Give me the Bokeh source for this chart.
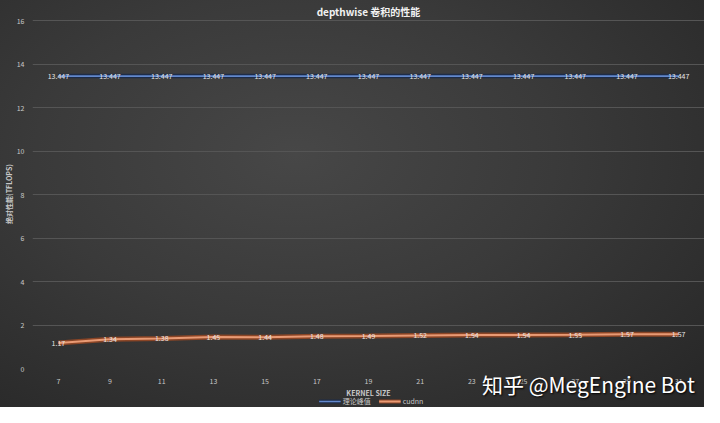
from bokeh.plotting import figure
from bokeh.models import Range1d, SingleIntervalTicker, Legend, LegendItem, Div, ColumnDataSource
from bokeh.layouts import column
from bokeh.core.properties import value
from bokeh.embed import file_html
from bokeh.resources import INLINE

kernel_sizes = ["7", "9", "11", "13", "15", "17", "19", "21", "23", "25", "27", "29", "31"]
peak_values = [13.447] * 13
cudnn_values = [1.17, 1.34, 1.38, 1.45, 1.44, 1.48, 1.49, 1.52, 1.54, 1.54, 1.55, 1.57, 1.57]
peak_name = "理论峰值"
cudnn_name = "cudnn"
watermark = "知乎 @MegEngine Bot"

FONT = "Noto Sans CJK SC"
BLUE_DARK, BLUE = "#1e2c48", "#6288cc"
ORANGE_DARK, ORANGE = "#8a4526", "#e99a74"

p = figure(width=704, height=407, x_range=kernel_sizes, y_range=Range1d(0, 16.05),
           output_backend="svg", toolbar_location=None,
           background_fill_color=None, border_fill_color=None,
           min_border_left=0, min_border_right=0, min_border_top=0, min_border_bottom=39,
           outline_line_color=None)
p.styles = {"background": "radial-gradient(ellipse at 42% 38%, #474747 0%, #3a3a3a 45%, #262626 100%)"}

p.title.text = "depthwise 卷积的性能"
p.title.align = "center"
p.title.text_color = "#f2f2f2"
p.title.text_font = FONT
p.title.text_font_size = "10px"
p.title.text_font_style = "bold"
p.title.offset = 0
p.title.standoff = 2

src_peak = ColumnDataSource(dict(x=kernel_sizes, y=peak_values, t=[f"{v:g}" for v in peak_values]))
src_cudnn = ColumnDataSource(dict(x=kernel_sizes, y=cudnn_values, t=[f"{v:.2f}" for v in cudnn_values]))

p.line("x", "y", source=src_peak, line_color=BLUE_DARK, line_width=4.5)
p.line("x", "y", source=src_peak, line_color=BLUE, line_width=1.6)
p.line("x", "y", source=src_cudnn, line_color=ORANGE_DARK, line_width=5)
p.line("x", "y", source=src_cudnn, line_color=ORANGE, line_width=2)

for src in (src_peak, src_cudnn):
    p.text("x", "y", text="t", source=src, text_color="#e6e6e6", text_font=value(FONT),
           text_font_size="7px", text_align="center", text_baseline="middle")

p.yaxis.ticker = SingleIntervalTicker(interval=2)
for ax in (p.xaxis, p.yaxis):
    ax.axis_line_color = None
    ax.major_tick_line_color = None
    ax.minor_tick_line_color = None
    ax.major_label_text_color = "#c8c8c8"
    ax.major_label_text_font = FONT
    ax.major_label_text_font_size = "7px"
    ax.axis_label_text_color = "#c8c8c8"
    ax.axis_label_text_font = FONT
    ax.axis_label_text_font_size = "7px"
    ax.axis_label_text_font_style = "bold"
p.yaxis.axis_label = "绝对性能(TFLOPS)"
p.yaxis.major_label_standoff = 2
p.yaxis.axis_label_standoff = 0
p.xaxis.axis_label = "KERNEL SIZE"
p.xaxis.major_label_standoff = 3
p.xaxis.axis_label_standoff = 1

p.xgrid.grid_line_color = None
p.ygrid.grid_line_color = "#555555"
p.ygrid.grid_line_width = 1

# legend in a small transparent figure laid over the bottom of the chart
lf = figure(width=160, height=13, x_range=kernel_sizes, y_range=Range1d(100, 101),
            output_backend="svg", toolbar_location=None,
            x_axis_location=None, y_axis_location=None,
            background_fill_color=None, border_fill_color=None, outline_line_color=None,
            min_border=0)
lf.xgrid.grid_line_color = None
lf.ygrid.grid_line_color = None
lb_d = lf.line("x", "y", source=src_peak, line_color=BLUE_DARK, line_width=4)
lb = lf.line("x", "y", source=src_peak, line_color=BLUE, line_width=1.6)
lo_d = lf.line("x", "y", source=src_cudnn, line_color=ORANGE_DARK, line_width=4)
lo = lf.line("x", "y", source=src_cudnn, line_color=ORANGE, line_width=1.8)
legend = Legend(items=[LegendItem(label=peak_name, renderers=[lb_d, lb]),
                       LegendItem(label=cudnn_name, renderers=[lo_d, lo])],
                orientation="horizontal", location="center",
                background_fill_alpha=0, border_line_color=None,
                label_text_color="#c8c8c8", label_text_font=FONT, label_text_font_size="7px",
                glyph_width=22, glyph_height=8, spacing=8, padding=0, margin=0,
                label_standoff=2, label_height=8)
lf.add_layout(legend)
lf.styles = {"position": "absolute", "left": "275px", "top": "394px", "z-index": "5"}

wm = Div(text=watermark, styles={"position": "absolute", "left": "477px", "top": "364px",
                                 "font-size": "21px", "color": "#ffffff", "font-family": FONT,
                                 "text-shadow": "1px 1px 2px #000000", "z-index": "10",
                                 "white-space": "nowrap"})

layout = column(p, lf, wm)
open("out.html", "w").write(file_html(layout, INLINE))
